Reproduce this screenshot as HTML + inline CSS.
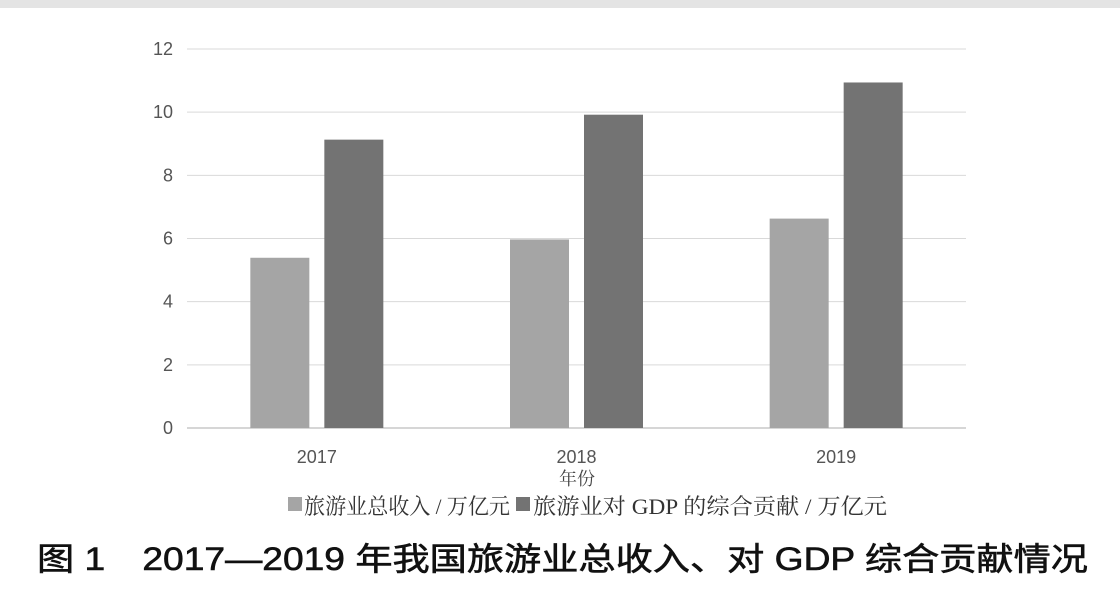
<!DOCTYPE html>
<html><head><meta charset="utf-8"><style>
html,body{margin:0;padding:0;background:#fff;}
body{width:1120px;height:589px;overflow:hidden;position:relative;}
</style></head><body>
<div style="position:absolute;left:0;top:0;width:1120px;height:8px;background:#e4e4e4"></div>
<svg id="chart" width="1120" height="589" style="position:absolute;left:0;top:0">
<g id="grid"></g><g id="bars"></g><g id="labels"></g>
<text x="577" y="485" text-anchor="middle" font-family="'Liberation Serif','Noto Serif CJK SC',serif" font-size="18" fill="#444">年份</text>
<g font-family="'Liberation Serif','Noto Serif CJK SC',serif" font-size="22" fill="#333">
<rect x="288" y="497" width="14" height="14" fill="#a5a5a5"/>
<text x="304" y="514" textLength="206" lengthAdjust="spacingAndGlyphs">旅游业总收入 / 万亿元</text>
<rect x="516" y="497" width="14" height="14" fill="#737373"/>
<text x="533" y="514" textLength="354" lengthAdjust="spacingAndGlyphs">旅游业对 GDP 的综合贡献 / 万亿元</text>
</g>
<text x="37" y="570" font-family="'Liberation Sans','Noto Sans CJK SC',sans-serif" font-size="32" fill="#111" stroke="#111" stroke-width="0.6" textLength="1051" lengthAdjust="spacingAndGlyphs">图 1　2017—2019 年我国旅游业总收入、对 GDP 综合贡献情况</text>
</svg>
<script>
const categories=["2017","2018","2019"];
const incomeValues=[5.39,5.97,6.63];
const gdpValues=[9.13,9.92,10.94];
const yTicks=[0,2,4,6,8,10,12];
const NS="http://www.w3.org/2000/svg";
const x0=187,x1=966,yBase=428,yTop=49,yMax=12;
const y=v=>yBase-(v/yMax)*(yBase-yTop);
const band=(x1-x0)/categories.length;
const cx=i=>x0+band*(i+0.5);
function mk(tag,attrs,parent){const e=document.createElementNS(NS,tag);for(const k in attrs)e.setAttribute(k,attrs[k]);document.getElementById(parent).appendChild(e);return e;}
yTicks.forEach(t=>{
 const l=mk('line',{x1:x0,x2:x1,y1:y(t),y2:y(t),stroke:t===0?'#c8c8c8':'#d9d9d9','stroke-width':t===0?1.5:1},'grid');
 
 
 const tx=mk('text',{x:173,y:y(t)+6,'text-anchor':'end','font-family':'Liberation Sans,sans-serif','font-size':18,fill:'#555'},'labels');
 tx.textContent=t;
 
 
});
const bw=59,gap=15;
categories.forEach((c,i)=>{
 const a=mk('rect',{x:cx(i)-gap/2-bw,y:y(incomeValues[i]),width:bw,height:yBase-y(incomeValues[i]),fill:'#a5a5a5'},'bars');
 
 
 const b=mk('rect',{x:cx(i)+gap/2,y:y(gdpValues[i]),width:bw,height:yBase-y(gdpValues[i]),fill:'#737373'},'bars');
 
 
 const t=mk('text',{x:cx(i),y:463,'text-anchor':'middle','font-family':'Liberation Sans,sans-serif','font-size':18,fill:'#555'},'labels');
 t.textContent=c;
 
 
});
</script>
</body></html>
